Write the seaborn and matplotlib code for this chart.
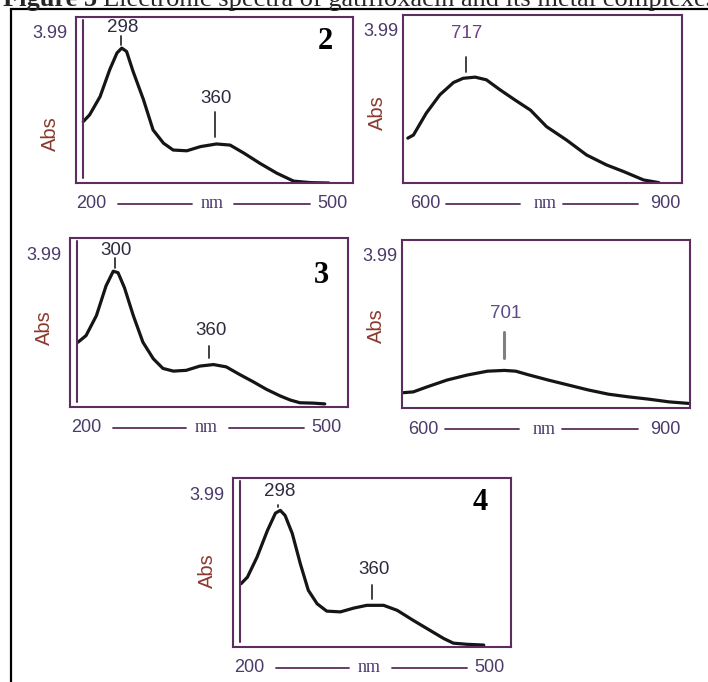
import seaborn as sns
import matplotlib.pyplot as plt
import pandas as pd
from matplotlib import transforms
from matplotlib.patches import Rectangle

# ---- spectra (x in nm on the axis scale, y in Abs) ----
# complex 2, UV region
nm_2uv = [180, 188, 201, 213, 222, 228, 234, 242, 255, 267, 280, 292, 309, 326,
          346, 363, 380, 400, 421, 442, 463, 486]
abs_2uv = [1.62, 1.80, 2.28, 2.99, 3.43, 3.56, 3.47, 2.95, 2.20, 1.40, 1.05, 0.87,
           0.85, 0.96, 1.03, 1.00, 0.79, 0.52, 0.26, 0.05, 0.01, 0.0]
# complex 2, visible region
nm_2vis = [575, 582, 598, 615, 632, 644, 659, 673, 690, 709, 728, 748, 773, 798,
           823, 844, 869, 888]
abs_2vis = [1.17, 1.25, 1.82, 2.30, 2.62, 2.73, 2.76, 2.69, 2.43, 2.16, 1.90, 1.47,
            1.12, 0.73, 0.47, 0.30, 0.08, 0.01]
# complex 3, UV region
nm_3uv = [180, 190, 203, 215, 224, 230, 238, 249, 261, 274, 286, 299, 315, 332,
          349, 365, 382, 399, 415, 432, 445, 457, 474, 488]
abs_3uv = [1.68, 1.85, 2.37, 3.14, 3.52, 3.48, 3.09, 2.37, 1.68, 1.25, 1.00, 0.93,
           0.95, 1.06, 1.10, 1.04, 0.84, 0.65, 0.46, 0.29, 0.18, 0.11, 0.10, 0.08]
# complex 3, visible region
nm_3vis = [572, 584, 601, 626, 651, 676, 697, 711, 726, 751, 776, 801, 826, 851,
           876, 901, 925]
abs_3vis = [0.40, 0.42, 0.55, 0.73, 0.86, 0.96, 0.98, 0.96, 0.87, 0.73, 0.60, 0.47,
            0.36, 0.29, 0.23, 0.16, 0.12]
# complex 4, UV region
nm_4uv = [180, 188, 200, 213, 223, 229, 235, 244, 254, 264, 275, 287, 304, 321,
          337, 358, 375, 395, 416, 433, 445, 462, 483]
abs_4uv = [1.64, 1.81, 2.33, 3.02, 3.47, 3.54, 3.41, 2.94, 2.16, 1.47, 1.12, 0.93,
           0.91, 1.01, 1.08, 1.08, 0.95, 0.69, 0.43, 0.22, 0.10, 0.07, 0.05]

# peak labels: (text, x, marker bottom, marker top, text bottom)
peaks_2uv = [("298", 227, 3.65, 3.89, 3.89), ("360", 344, 1.22, 1.88, 2.01)]
peaks_2vis = [("717", 647, 2.89, 3.29, 3.68)]
peaks_3uv = [("300", 226, 3.60, 3.86, 3.83), ("360", 344, 1.26, 1.59, 1.77)]
peaks_3vis = [("701", 697, 1.30, 1.97, 2.25)]
peaks_4uv = [("298", 226, 3.62, 3.67, 3.80), ("360", 344, 1.24, 1.60, 1.78)]

uv_ticks = [200, 350, 500]
vis_ticks = [600, 750, 900]
uv_ticklabels = ["200", "nm", "500"]
vis_ticklabels = ["600", "nm", "900"]
abs_minor = [3.99, 3.17, 2.33, 1.67, 1.02, 0.48]
complex_ids = ["2", "3", "4"]

sns.set_theme(style="white")
plt.rcParams['font.family'] = ['Liberation Sans', 'DejaVu Sans']

W, H = 708, 682
fig = plt.figure(figsize=(W / 100, H / 100), dpi=100)

FRAME = '#5c2d5e'
TXT = '#4b3a6b'
ABS_C = '#8b3a2f'


def px_rect(l, t, r, b):
    return [l / W, 1 - b / H, (r - l) / W, (b - t) / H]


def panel(rect, xs, ys, xlim, ticks, ticklabels, peaks, uv, abs_y, lab_dx,
          peak_color, marker_color='#333333', marker_lw=1.3, num=None, num_pos=None):
    ax = fig.add_axes(px_rect(*rect))
    df = pd.DataFrame({"nm": xs, "abs": ys})
    sns.lineplot(data=df, x="nm", y="abs", ax=ax, color='#151515', lw=2.3,
                 estimator=None, sort=False)
    ax.set_xlim(*xlim)
    ax.set_ylim(0, 4.38)
    ax.set_xlabel("")
    ax.set_ylabel("")
    for s in ax.spines.values():
        s.set_color(FRAME)
        s.set_linewidth(1.5)

    # bottom ticks, labels drawn as text row
    ax.set_xticks(ticks)
    ax.set_xticklabels([])
    ax.tick_params(axis='x', direction='out', length=6, width=1.3, color=FRAME)
    below = transforms.blended_transform_factory(ax.transData, ax.transAxes)
    off = transforms.ScaledTranslation(lab_dx / 100, -21 / 100, fig.dpi_scale_trans)
    for t, lab in zip(ticks, ticklabels):
        fam = 'Liberation Serif' if lab == "nm" else 'Liberation Sans'
        ax.text(t, 0, lab, transform=below + off, ha='center', va='center',
                fontsize=13, color=TXT, family=fam)
    lo, mid, hi = ticks
    span = hi - lo
    dash_y = transforms.ScaledTranslation(0, -21 / 100, fig.dpi_scale_trans)
    for a, b in [(lo + 0.077 * span, mid - 0.117 * span), (mid + 0.06 * span, hi - 0.125 * span)]:
        ax.plot([a, b], [0, 0], transform=below + dash_y, color=FRAME, lw=1.3,
                clip_on=False)

    # y axis
    if uv:
        ax.set_yticks(abs_minor)
        ax.set_yticklabels(["3.99"] + [""] * (len(abs_minor) - 1))
        ax.tick_params(axis='y', direction='in', length=7, width=1.3, color=FRAME,
                       pad=6, labelsize=13, labelcolor=TXT)
        inner = 7 / ((rect[2] - rect[0]))
        ax.plot([inner, inner], [0.03, 0.98], transform=ax.transAxes, color=FRAME,
                lw=1.5, clip_on=False)
    else:
        ax.set_yticks([3.99])
        ax.set_yticklabels(["3.99"])
        ax.tick_params(axis='y', length=0, pad=3, labelsize=13, labelcolor=TXT)

    ax.annotate("Abs", xy=(0, abs_y), xycoords='axes fraction', xytext=(-26, 0),
                textcoords='offset pixels', rotation=90, ha='center', va='center',
                fontsize=14.5, color=ABS_C)

    for lab, x, y0, y1, yt in peaks:
        ax.plot([x, x], [y0, y1], color=marker_color, lw=marker_lw)
        ax.text(x + 2, yt, lab, ha='center', va='bottom', fontsize=13.5,
                color=peak_color)

    if num is not None:
        ax.text(num_pos[0], num_pos[1], num, transform=ax.transAxes, ha='center',
                va='center', fontsize=22, fontweight='bold', family='Liberation Serif',
                color='black')
    return ax


panel((76, 17, 353, 183), nm_2uv, abs_2uv, (171, 516), uv_ticks, uv_ticklabels,
      peaks_2uv, True, 0.30, -8, '#2e2a40', num=complex_ids[0], num_pos=(0.90, 0.85))
panel((403, 15, 682, 183), nm_2vis, abs_2vis, (569, 917), vis_ticks, vis_ticklabels,
      peaks_2vis, False, 0.42, -3, '#6e3f86')
panel((70, 238, 348, 407), nm_3uv, abs_3uv, (170, 517), uv_ticks, uv_ticklabels,
      peaks_3uv, True, 0.47, -8, '#2e2a40', num=complex_ids[1], num_pos=(0.905, 0.78))
panel((402, 240, 690, 408), nm_3vis, abs_3vis, (570, 927), vis_ticks, vis_ticklabels,
      peaks_3vis, False, 0.49, -3, '#5e4a86', marker_color='#808080', marker_lw=2.2)
panel((233, 478, 511, 647), nm_4uv, abs_4uv, (170, 517), uv_ticks, uv_ticklabels,
      peaks_4uv, True, 0.45, -8, '#2e2a40', num=complex_ids[2], num_pos=(0.89, 0.855))

# outer frame of the scanned figure (left and top edges visible)
fig.add_artist(Rectangle((11 / W, -0.5), 2.0, 0.5 + 1 - 9 / H, transform=fig.transFigure,
                         fill=False, lw=1.6, ec='black'))

# caption, cut off at the top of the scan
r = fig.canvas.get_renderer()
t1 = fig.text(3 / W, 1 - 6 / H, "Figure 5", fontsize=19, fontweight='bold',
              family='Liberation Serif', va='baseline', ha='left')
bb = t1.get_window_extent(renderer=r)
fig.text(bb.x1 / W + 6 / W, 1 - 6 / H, "Electronic spectra of gatifloxacin and its metal complexes",
         fontsize=19, family='Liberation Serif', va='baseline', ha='left')

fig.savefig("out.png", dpi=100)
